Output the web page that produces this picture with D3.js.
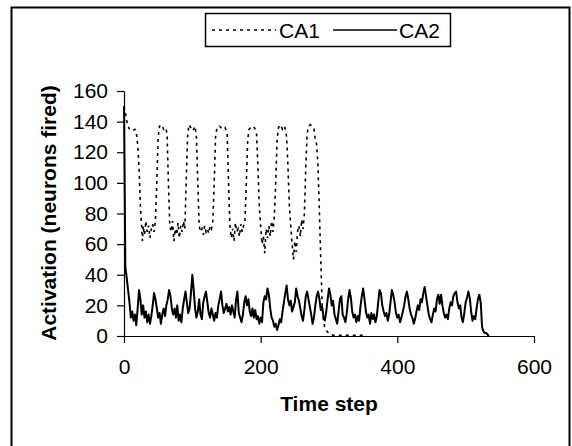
<!DOCTYPE html>
<meta charset="utf-8">
<script src="https://d3js.org/d3.v7.min.js"></script>
<style>
  body { margin: 0; background: #fff; }
  text { font-family: "Liberation Sans", Arial, sans-serif; fill: #000; }
</style>
<div id="my_dataviz"></div>
<script>

// CA1 (dotted) - time steps and neurons fired
const ca1Time = [0, 2, 5, 8, 12, 16, 18, 20, 22, 24, 26, 27, 28, 30, 32, 34, 36, 38, 40, 42, 44, 46,
  48, 50, 52, 55, 58, 61, 63, 65, 67, 69, 71, 73, 75, 77, 79, 81, 83, 85, 87, 89,
  91, 93, 95, 98, 101, 104, 106, 108, 110, 112, 114, 116, 118, 120, 122, 124, 126, 128, 130,
  132, 134, 136, 140, 144, 148, 151, 153, 155, 157, 159, 161, 163, 165, 167, 169, 171, 173, 175, 177,
  179, 181, 183, 187, 191, 194, 196, 198, 200, 202, 204, 206, 208, 210, 212, 214, 216, 218, 220,
  222, 224, 226, 229, 232, 235, 238, 240, 242, 244, 246, 248, 250, 252, 254, 256, 258, 260, 262, 264,
  266, 268, 270, 273, 276, 278, 280, 282, 284, 286, 288, 290, 292, 294, 297, 302, 306, 354];
const ca1Value = [150, 146, 138, 135, 134, 135, 133, 125, 110, 85, 70, 62, 72, 66, 75, 68, 72, 64, 70, 73, 68, 75,
  100, 130, 137, 138, 135, 136, 132, 100, 72, 68, 75, 62, 70, 66, 74, 64, 72, 68, 75, 70,
  100, 130, 138, 136, 134, 137, 130, 100, 72, 68, 70, 66, 72, 68, 70, 67, 72, 70, 75,
  100, 130, 136, 137, 135, 136, 132, 100, 72, 64, 70, 62, 74, 68, 70, 65, 73, 68, 72, 75,
  100, 128, 135, 137, 136, 132, 110, 85, 72, 60, 65, 54, 70, 64, 72, 65, 75, 68, 78,
  100, 128, 136, 138, 135, 137, 130, 110, 85, 72, 60, 50, 62, 55, 68, 72, 65, 76, 70, 80,
  110, 132, 137, 138, 136, 135, 128, 125, 110, 80, 50, 20, 10, 5, 3, 1, 0.5, 0.5];

// CA2 (solid) - one value every 2 time steps, from 0 to 534
const ca2Step = 2;
const ca2Value = [
  150, 45, 38, 30, 22, 12, 16, 10, 14, 7,
  18, 30, 24, 14, 20, 12, 16, 9, 14, 8,
  13, 20, 28, 24, 18, 12, 15, 8, 14, 18,
  13, 20, 24, 30, 26, 18, 14, 18, 12, 20,
  10, 14, 9, 18, 24, 29, 22, 15, 18, 28,
  40, 30, 18, 12, 16, 24, 14, 11, 22, 26,
  29, 22, 15, 12, 18, 14, 10, 15, 12, 20,
  24, 29, 20, 15, 18, 21, 16, 19, 14, 20,
  16, 12, 24, 29, 15, 12, 9, 14, 22, 26,
  20, 24, 16, 13, 18, 12, 17, 11, 13, 8,
  12, 9, 22, 26, 24, 31, 27, 18, 12, 10,
  6, 8, 4, 7, 11, 9, 16, 22, 28, 33,
  24, 20, 23, 16, 19, 22, 31, 26, 23, 18,
  13, 10, 17, 26, 29, 24, 19, 14, 8, 12,
  20, 26, 29, 24, 17, 19, 12, 10, 16, 24,
  31, 27, 20, 23, 14, 11, 8, 16, 24, 26,
  14, 12, 9, 15, 24, 30, 25, 16, 12, 14,
  9, 13, 10, 19, 26, 31, 24, 16, 12, 14,
  8, 15, 11, 14, 9, 13, 22, 30, 28, 20,
  16, 13, 15, 10, 14, 22, 30, 27, 22, 15,
  12, 14, 9, 12, 16, 20, 26, 29, 24, 18,
  14, 12, 8, 11, 16, 20, 17, 24, 22, 28,
  32, 26, 20, 14, 11, 9, 14, 18, 16, 24,
  27, 21, 27, 20, 15, 12, 14, 11, 18, 22,
  20, 26, 28, 29, 22, 18, 20, 12, 9, 15,
  22, 25, 29, 25, 16, 10, 13, 11, 18, 24,
  27, 22, 6, 3, 2, 2, 1, 0];

const xTicks = [0, 200, 400, 600];
const yTicks = [0, 20, 40, 60, 80, 100, 120, 140, 160];
const seriesNames = ["CA1", "CA2"];

const W = 572, H = 446;

const svg = d3.select("#my_dataviz")
  .append("svg")
    .attr("width", W)
    .attr("height", H);

// outer frame
svg.append("rect")
  .attr("x", 11.5).attr("y", 7.5)
  .attr("width", 558).attr("height", 480)
  .attr("fill", "none")
  .attr("stroke", "#000")
  .attr("stroke-width", 2);

const x = d3.scaleLinear().domain([0, 600]).range([124, 534]);
const y = d3.scaleLinear().domain([0, 160]).range([336, 91]);

// x axis
const xAxis = svg.append("g")
  .attr("transform", "translate(0,336)")
  .call(d3.axisBottom(x).tickValues(xTicks).tickSize(7).tickSizeOuter(0).tickPadding(16));
xAxis.selectAll("text").style("font-size", "21px");

// y axis
const yAxis = svg.append("g")
  .attr("transform", "translate(124,0)")
  .call(d3.axisLeft(y).tickValues(yTicks).tickSize(7).tickSizeOuter(0).tickPadding(9));
yAxis.selectAll("text").style("font-size", "21px");

svg.selectAll(".domain, .tick line").attr("stroke", "#000").attr("stroke-width", 1.2);

// lines
const ca1 = ca1Time.map((t, i) => [t, ca1Value[i]]);
const ca2 = ca2Value.map((v, i) => [i * ca2Step, v]);

const line = d3.line().x(d => x(d[0])).y(d => y(d[1]));

svg.append("path")
  .datum(ca2)
  .attr("fill", "none")
  .attr("stroke", "#000")
  .attr("stroke-width", 2)
  .attr("stroke-linejoin", "round")
  .attr("d", line);

svg.append("path")
  .datum(ca1)
  .attr("fill", "none")
  .attr("stroke", "#000")
  .attr("stroke-width", 1.6)
  .attr("stroke-dasharray", "3,4")
  .attr("d", line);

// axis titles
svg.append("text")
  .attr("x", 329).attr("y", 411)
  .attr("text-anchor", "middle")
  .style("font-size", "21px").style("font-weight", "bold")
  .text("Time step");

svg.append("text")
  .attr("transform", "translate(56,213) rotate(-90)")
  .attr("text-anchor", "middle")
  .style("font-size", "21px").style("font-weight", "bold")
  .text("Activation (neurons fired)");

// legend
const lg = svg.append("g");
lg.append("rect")
  .attr("x", 205.5).attr("y", 13.5)
  .attr("width", 245).attr("height", 33)
  .attr("fill", "#fff").attr("stroke", "#000").attr("stroke-width", 1.5);
lg.append("line")
  .attr("x1", 212).attr("x2", 276).attr("y1", 30).attr("y2", 30)
  .attr("stroke", "#000").attr("stroke-width", 1.3).attr("stroke-dasharray", "3,4");
lg.append("text").attr("x", 279).attr("y", 37.5).style("font-size", "21px").text(seriesNames[0]);
lg.append("line")
  .attr("x1", 333).attr("x2", 397).attr("y1", 30).attr("y2", 30)
  .attr("stroke", "#000").attr("stroke-width", 1.3);
lg.append("text").attr("x", 399).attr("y", 37.5).style("font-size", "21px").text(seriesNames[1]);

</script>
